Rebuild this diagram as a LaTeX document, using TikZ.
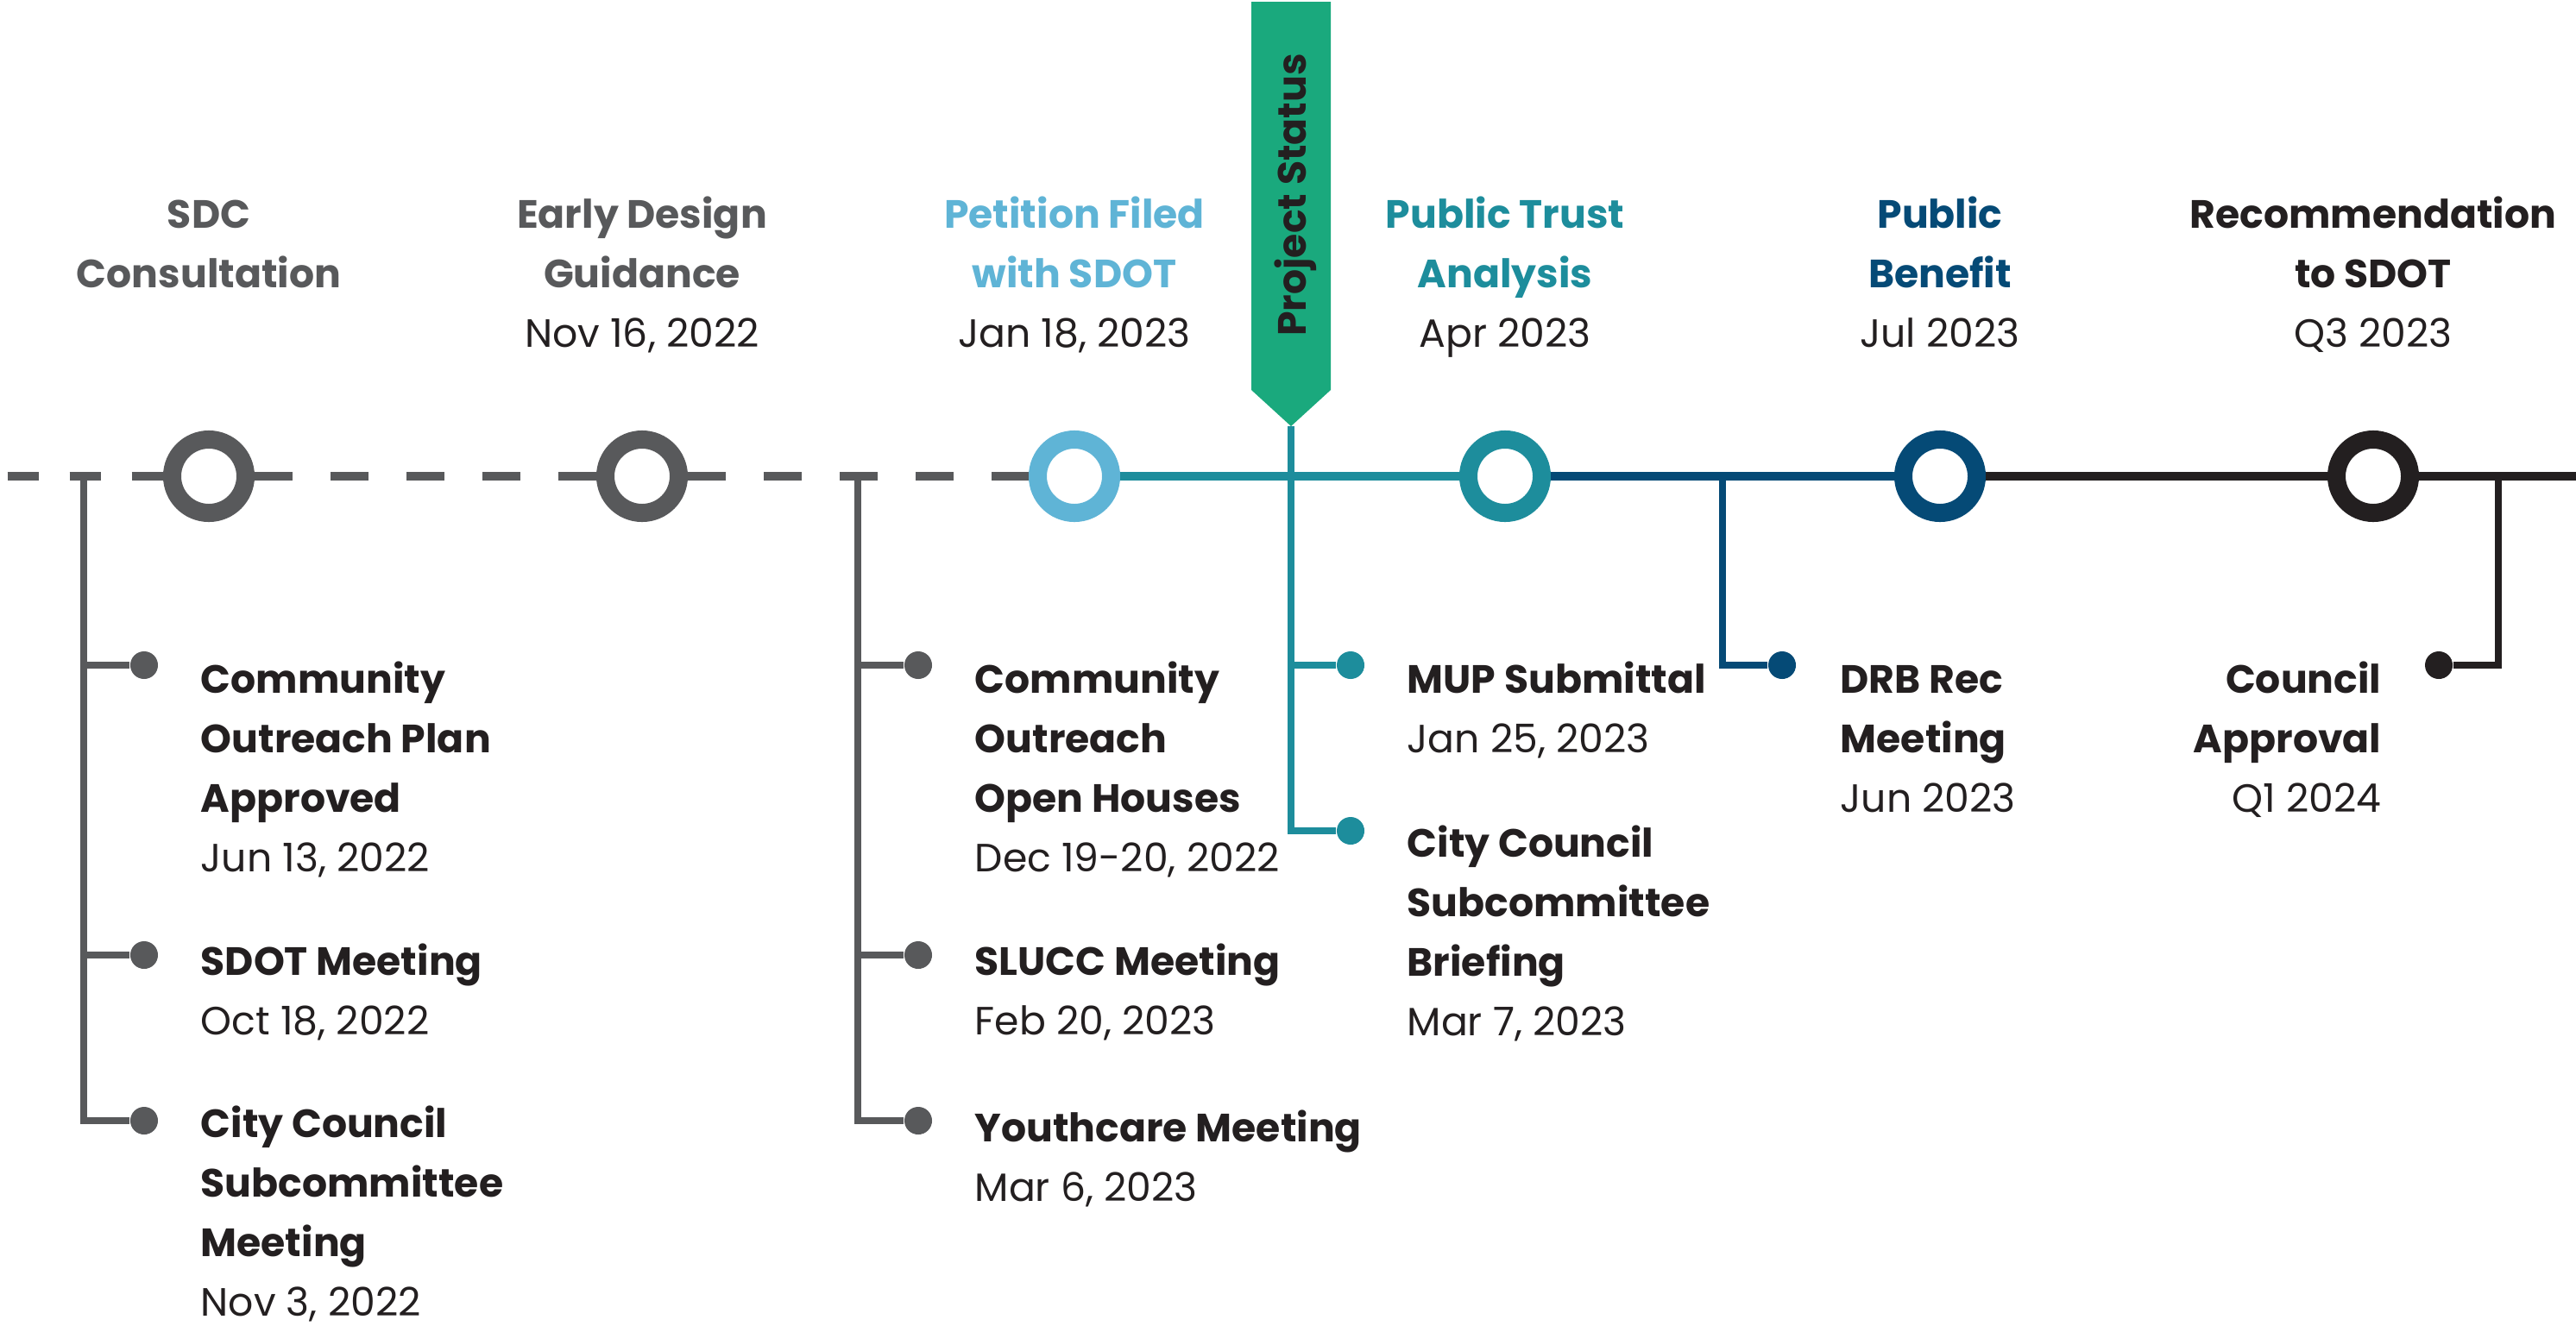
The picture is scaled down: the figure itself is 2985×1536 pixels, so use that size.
\documentclass[tikz,border=0pt]{standalone}
\usepackage{fontspec}
\setmainfont{Poppins}
\definecolor{cgray}{HTML}{58595B}
\definecolor{clight}{HTML}{5FB4D6}
\definecolor{cteal}{HTML}{1D8D9C}
\definecolor{cnavy}{HTML}{054A76}
\definecolor{cblack}{HTML}{231F20}
\definecolor{cgreen}{HTML}{1AA97D}
\begin{document}
\begin{tikzpicture}[x=0.01cm,y=-0.01cm,
  ring/.style={circle, draw=#1, line width=0.21cm, fill=white, minimum size=0.85cm, inner sep=0pt},
  dot/.style={circle, fill=#1, minimum size=0.32cm, inner sep=0pt},
  tl/.style={line width=0.1cm},
  br/.style={line width=0.08cm},
  dashA/.style={dash pattern=on 0.44cm off 0.44cm},
  lbl/.style={inner sep=0pt, text=cblack, font=\fontsize{13pt}{19.63pt}\selectfont},
  head/.style={lbl, anchor=base},
  item/.style={lbl, anchor=base west}]

% canvas
\fill[white] (0,0) rectangle (2985,1536);
\useasboundingbox (0,0) rectangle (2985,1536);

% milestone rings on the timeline
\node[ring=cgray]  (m1) at (242,552) {};
\node[ring=cgray]  (m2) at (744,552) {};
\node[ring=clight] (m3) at (1245,552) {};
\node[ring=cteal]  (m4) at (1744,552) {};
\node[ring=cnavy]  (m5) at (2248,552) {};
\node[ring=cblack] (m6) at (2750,552) {};
\coordinate (lstart) at (8.6,552);
\coordinate (rend) at (2985,552);

% timeline segments
\draw[tl, cgray, dash pattern=on 0.36cm off 0.36cm] (lstart) -- (m1);
\draw[tl, cgray, dashA] (m1) -- (m2);
\draw[tl, cgray, dashA] (m2) -- (m3);
\draw[tl, cteal] (m3) -- (m4);
\draw[tl, cnavy] (m4) -- (m5);
\draw[tl, cblack] (m5) -- (m6);
\draw[tl, cblack] (m6) -- (rend);

% branch anchor points on the timeline
\coordinate (b1) at (97,552);
\coordinate (b2) at (994,552);
\coordinate (b4) at (1996,552);
\coordinate (b5) at (2895,552);

% project status flag
\fill[cgreen] (1450,2) -- (1542,2) -- (1542,452) -- (1496,494) -- (1450,452) -- cycle;
\coordinate (flagtip) at (1496,494);
\node[lbl, rotate=90, anchor=base] (ps) at (1513,226) {\textbf{Project Status}};

% sub-event dots
\node[dot=cgray] (d11) at (167,771) {};
\node[dot=cgray] (d12) at (167,1107) {};
\node[dot=cgray] (d13) at (167,1299) {};
\node[dot=cgray] (d21) at (1064,771) {};
\node[dot=cgray] (d22) at (1064,1107) {};
\node[dot=cgray] (d23) at (1064,1299) {};
\node[dot=cteal] (d31) at (1565,771) {};
\node[dot=cteal] (d32) at (1565,963) {};
\node[dot=cnavy] (d41) at (2065,771) {};
\node[dot=cblack] (d51) at (2826,771) {};

% branch connectors
\draw[br, cgray] (b1) -- (b1 |- d13) -- (d13);
\draw[br, cgray] (b1 |- d11) -- (d11);
\draw[br, cgray] (b1 |- d12) -- (d12);
\draw[br, cgray] (b2) -- (b2 |- d23) -- (d23);
\draw[br, cgray] (b2 |- d21) -- (d21);
\draw[br, cgray] (b2 |- d22) -- (d22);
\draw[br, cteal] (flagtip) -- (flagtip |- d32) -- (d32);
\draw[br, cteal] (flagtip |- d31) -- (d31);
\draw[br, cnavy] (b4) -- (b4 |- d41) -- (d41);
\draw[br, cblack] (b5) -- (b5 |- d51) -- (d51);

% milestone headings
\node[head, text=cgray] (h1) at (242,264)
  {\begin{tabular}[t]{@{}c@{}}\textbf{SDC}\\\textbf{Consultation}\end{tabular}};
\node[head, text=cgray] (h2) at (744,264)
  {\begin{tabular}[t]{@{}c@{}}\textbf{Early Design}\\\textbf{Guidance}\\\textcolor{cblack}{Nov 16, 2022}\end{tabular}};
\node[head, text=clight] (h3) at (1245,264)
  {\begin{tabular}[t]{@{}c@{}}\textbf{Petition Filed}\\\textbf{with SDOT}\\\textcolor{cblack}{Jan 18, 2023}\end{tabular}};
\node[head, text=cteal] (h4) at (1744,264)
  {\begin{tabular}[t]{@{}c@{}}\textbf{Public Trust}\\\textbf{Analysis}\\\textcolor{cblack}{Apr 2023}\end{tabular}};
\node[head, text=cnavy] (h5) at (2248,264)
  {\begin{tabular}[t]{@{}c@{}}\textbf{Public}\\\textbf{Benefit}\\\textcolor{cblack}{Jul 2023}\end{tabular}};
\node[head, text=cblack] (h6) at (2750,264)
  {\begin{tabular}[t]{@{}c@{}}\textbf{Recommendation}\\\textbf{to SDOT}\\Q3 2023\end{tabular}};

% sub-event labels
\node[item] (t11) at (232,803)
  {\begin{tabular}[t]{@{}l@{}}\textbf{Community}\\\textbf{Outreach Plan}\\\textbf{Approved}\\Jun 13, 2022\end{tabular}};
\node[item] (t12) at (232,1130)
  {\begin{tabular}[t]{@{}l@{}}\textbf{SDOT Meeting}\\Oct 18, 2022\end{tabular}};
\node[item] (t13) at (232,1318)
  {\begin{tabular}[t]{@{}l@{}}\textbf{City Council}\\\textbf{Subcommittee}\\\textbf{Meeting}\\Nov 3, 2022\end{tabular}};
\node[item] (t21) at (1129,803)
  {\begin{tabular}[t]{@{}l@{}}\textbf{Community}\\\textbf{Outreach}\\\textbf{Open Houses}\\Dec 19-20, 2022\end{tabular}};
\node[item] (t22) at (1129,1130)
  {\begin{tabular}[t]{@{}l@{}}\textbf{SLUCC Meeting}\\Feb 20, 2023\end{tabular}};
\node[item] (t23) at (1129,1323)
  {\begin{tabular}[t]{@{}l@{}}\textbf{Youthcare Meeting}\\Mar 6, 2023\end{tabular}};
\node[item] (t31) at (1630,803)
  {\begin{tabular}[t]{@{}l@{}}\textbf{MUP Submittal}\\Jan 25, 2023\end{tabular}};
\node[item] (t32) at (1630,993)
  {\begin{tabular}[t]{@{}l@{}}\textbf{City Council}\\\textbf{Subcommittee}\\\textbf{Briefing}\\Mar 7, 2023\end{tabular}};
\node[item] (t41) at (2132,803)
  {\begin{tabular}[t]{@{}l@{}}\textbf{DRB Rec}\\\textbf{Meeting}\\Jun 2023\end{tabular}};
\node[lbl, anchor=base east] (t51) at (2760,803)
  {\begin{tabular}[t]{@{}r@{}}\textbf{Council}\\\textbf{Approval}\\Q1 2024\end{tabular}};
\end{tikzpicture}
\end{document}
